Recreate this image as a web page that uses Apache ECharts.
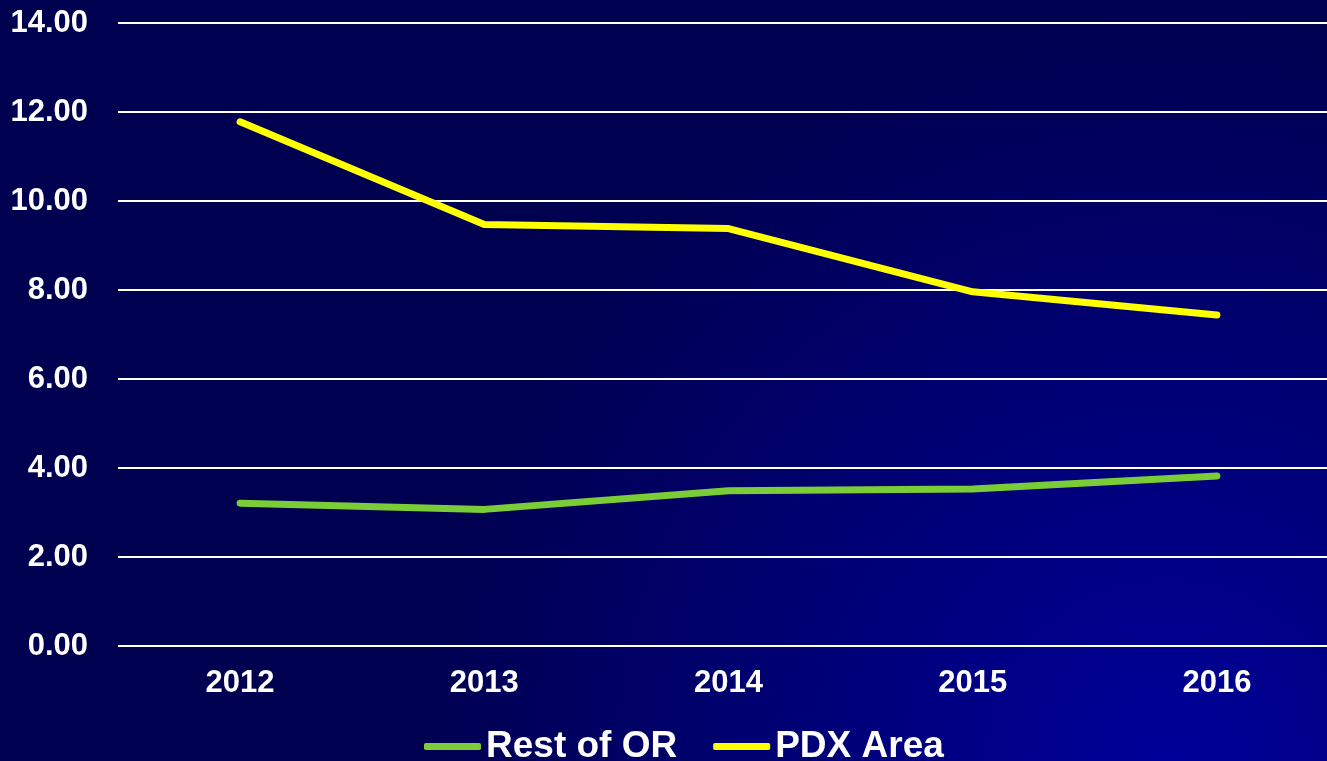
<!DOCTYPE html>
<html>
<head>
<meta charset="utf-8">
<script src="https://cdn.jsdelivr.net/npm/echarts@6/dist/echarts.min.js"></script>
<style>
html,body{margin:0;padding:0;width:1327px;height:761px;overflow:hidden;}
#chart{width:1327px;height:761px;}
</style>
</head>
<body>
<div id="chart"></div>
<script>
const categories = ['2012', '2013', '2014', '2015', '2016'];
const restOfOR = [3.21, 3.07, 3.49, 3.53, 3.82];
const pdxArea = [11.78, 9.47, 9.38, 7.96, 7.44];
const seriesNames = ['Rest of OR', 'PDX Area'];

const FONT = '"Liberation Sans", Arial, sans-serif';
const chart = echarts.init(document.getElementById('chart'));
chart.setOption({
  animation: false,
  backgroundColor: {
    type: 'radial', x: 0.88, y: 1.0, r: 1.0,
    colorStops: [
      { offset: 0, color: '#000099' },
      { offset: 1, color: '#000050' }
    ]
  },
  grid: { left: 118, right: -12, top: 23, bottom: 115, containLabel: false, outerBoundsMode: 'none' },
  legend: {
    data: seriesNames,
    left: 424,
    top: 728,
    padding: 0,
    itemWidth: 57,
    itemHeight: 7,
    itemGap: 36,
    icon: 'roundRect',
    textStyle: { color: '#ffffff', fontSize: 37, fontWeight: 'bold', fontFamily: FONT }
  },
  xAxis: {
    type: 'category',
    data: categories,
    boundaryGap: true,
    axisLine: { show: false },
    axisTick: { show: false },
    axisLabel: { color: '#ffffff', fontSize: 31, fontWeight: 'bold', fontFamily: FONT, margin: 22 }
  },
  yAxis: {
    type: 'value',
    min: 0, max: 14, interval: 2,
    axisLine: { show: false },
    axisTick: { show: false },
    splitLine: { lineStyle: { color: '#ffffff', width: 2 } },
    axisLabel: {
      color: '#ffffff', fontSize: 31, fontWeight: 'bold', fontFamily: FONT, margin: 30,
      formatter: v => v.toFixed(2)
    }
  },
  series: [
    {
      name: seriesNames[0], type: 'line', data: restOfOR,
      showSymbol: false, symbol: 'none',
      color: '#7ACD36',
      lineStyle: { color: '#7ACD36', width: 7, cap: 'round', join: 'round' }
    },
    {
      name: seriesNames[1], type: 'line', data: pdxArea,
      showSymbol: false, symbol: 'none',
      color: '#FFFF00',
      lineStyle: { color: '#FFFF00', width: 7, cap: 'round', join: 'round' }
    }
  ]
});
</script>
</body>
</html>
